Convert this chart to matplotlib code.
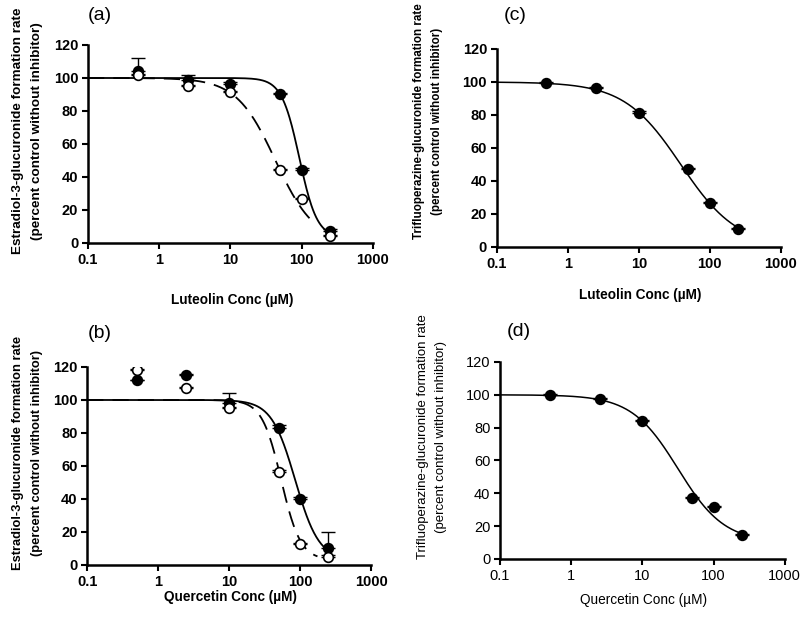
import numpy as np
import matplotlib
matplotlib.use('Agg')
import matplotlib.pyplot as plt
from matplotlib.ticker import FixedLocator, FixedFormatter

# ---- data ----
conc = [0.5, 2.5, 10, 50, 100, 250]

# (a) luteolin, estradiol-3-glucuronide
a_filled = [104, 99, 96.5, 90, 44.5, 7]
a_filled_err = [8, 3, 1, 1, 1, 1.5]
a_open = [102, 95, 91.5, 44, 26.5, 4]
a_open_err = [0.5, 0.5, 0.5, 1, 1, 1]

# (b) quercetin, estradiol-3-glucuronide
b_filled = [112, 115, 98, 83, 40, 10]
b_filled_err = [0, 1, 6, 2, 1, 10]
b_open = [118, 107.5, 95, 56.5, 12.5, 5]
b_open_err = [1, 0.5, 0.5, 1, 1, 1]

# (c) luteolin, trifluoperazine-glucuronide
c_filled = [99.5, 96.5, 81.5, 47, 26.5, 11]
c_filled_err = [0.5, 0.5, 1, 1, 1, 0.5]

# (d) quercetin, trifluoperazine-glucuronide
d_filled = [100, 97.5, 84, 37, 31.5, 14.5]
d_filled_err = [0.5, 0.5, 0.5, 1, 0.5, 0.5]

# fitted curves: (IC50, hill slope, bottom, x end)
a_fit_solid = (93, 3.5, 3, 250)
a_fit_dash = (43, 1.58, 0, 135)
b_fit_solid = (85, 2.6, 3, 250)
b_fit_dash = (54, 3.2, 3, 175)
c_fit = (39, 1.09, 0, 250)
d_fit = (31.6, 1.33, 10, 250)

xticks = [0.1, 1, 10, 100, 1000]
xtick_labels = ['0.1', '1', '10', '100', '1000']
yticks = [0, 20, 40, 60, 80, 100, 120]

plt.rcParams['font.family'] = ['Liberation Sans', 'DejaVu Sans']


def hill(params):
    ic50, n, bottom, xend = params
    x = np.logspace(-1, np.log10(xend), 300)
    return x, bottom + (100 - bottom) / (1 + (x / ic50) ** n)


def style(ax, xlabel, ylabel, weight, ysize, ylab_pos, xlab_y, lsp):
    ax.set_xscale('log')
    ax.set_xlim(0.1, 1000)
    ax.set_ylim(0, 120)
    ax.xaxis.set_major_locator(FixedLocator(xticks))
    ax.xaxis.set_major_formatter(FixedFormatter(xtick_labels))
    ax.xaxis.set_minor_locator(FixedLocator([]))
    ax.set_yticks(yticks)
    for s in ['top', 'right']:
        ax.spines[s].set_visible(False)
    for s in ['left', 'bottom']:
        ax.spines[s].set_linewidth(1.8)
    ax.tick_params(axis='both', direction='out', length=4, width=1.5,
                   labelsize=10.5, pad=3)
    for t in ax.get_xticklabels() + ax.get_yticklabels():
        t.set_fontweight(weight)
    ax.set_xlabel(xlabel, fontsize=9.8, fontweight=weight)
    ax.xaxis.set_label_coords(0.505, xlab_y)
    ax.set_ylabel(ylabel, fontsize=ysize, fontweight=weight, linespacing=lsp)
    ax.yaxis.set_label_coords(*ylab_pos)


def points(ax, y, err, filled):
    ax.errorbar(conc, y, yerr=[np.zeros(len(err)), err], fmt='none',
                ecolor='black', elinewidth=1, capsize=5, capthick=1, zorder=3)
    ax.plot(conc, y, 'o', ms=7, mfc='black' if filled else 'white',
            mec='black', mew=1.2, zorder=4)


fig = plt.figure(figsize=(8, 6.24), dpi=100)
ax_a = fig.add_axes([0.110, 0.6106, 0.356, 0.3173])
ax_c = fig.add_axes([0.621, 0.6042, 0.355, 0.3173])
ax_b = fig.add_axes([0.109, 0.0946, 0.355, 0.3173])
ax_d = fig.add_axes([0.625, 0.1042, 0.356, 0.3157])

e_lab = 'Estradiol-3-glucuronide formation rate\n(percent control without inhibitor)'
t_lab = 'Trifluoperazine-glucuronide formation rate\n(percent control without inhibitor)'

# (a)
x, y = hill(a_fit_dash)
ax_a.plot(x, y, color='black', lw=1.3, dashes=(9, 5))
x, y = hill(a_fit_solid)
ax_a.plot(x, y, color='black', lw=1.3)
points(ax_a, a_filled, a_filled_err, True)
points(ax_a, a_open, a_open_err, False)
style(ax_a, 'Luteolin Conc (\u00b5M)', e_lab, 'bold', 9.7,
      (-0.158, 0.566), -0.253, 1.75)

# (b)
x, y = hill(b_fit_dash)
ax_b.plot(x, y, color='black', lw=1.3, dashes=(9, 5))
x, y = hill(b_fit_solid)
ax_b.plot(x, y, color='black', lw=1.3)
points(ax_b, b_filled, b_filled_err, True)
points(ax_b, b_open, b_open_err, False)
style(ax_b, 'Quercetin Conc (\u00b5M)', e_lab, 'bold', 9.3,
      (-0.155, 0.566), -0.126, 1.8)

# (c)
x, y = hill(c_fit)
ax_c.plot(x, y, color='black', lw=1.1)
points(ax_c, c_filled, c_filled_err, True)
style(ax_c, 'Luteolin Conc (\u00b5M)', t_lab, 'bold', 8.4,
      (-0.19, 0.635), -0.207, 1.6)

# (d)
x, y = hill(d_fit)
ax_d.plot(x, y, color='black', lw=1.1)
points(ax_d, d_filled, d_filled_err, True)
style(ax_d, 'Quercetin Conc (\u00b5M)', t_lab, 'normal', 9.5,
      (-0.186, 0.62), -0.173, 1.7)

fig.text(0.125, 1 - 15 / 624, '(a)', fontsize=14, va='center', ha='center')
fig.text(0.644, 1 - 15 / 624, '(c)', fontsize=14, va='center', ha='center')
fig.text(0.125, 1 - 333 / 624, '(b)', fontsize=14, va='center', ha='center')
fig.text(0.648, 1 - 332 / 624, '(d)', fontsize=14, va='center', ha='center')

fig.savefig('out.png', dpi=100)
